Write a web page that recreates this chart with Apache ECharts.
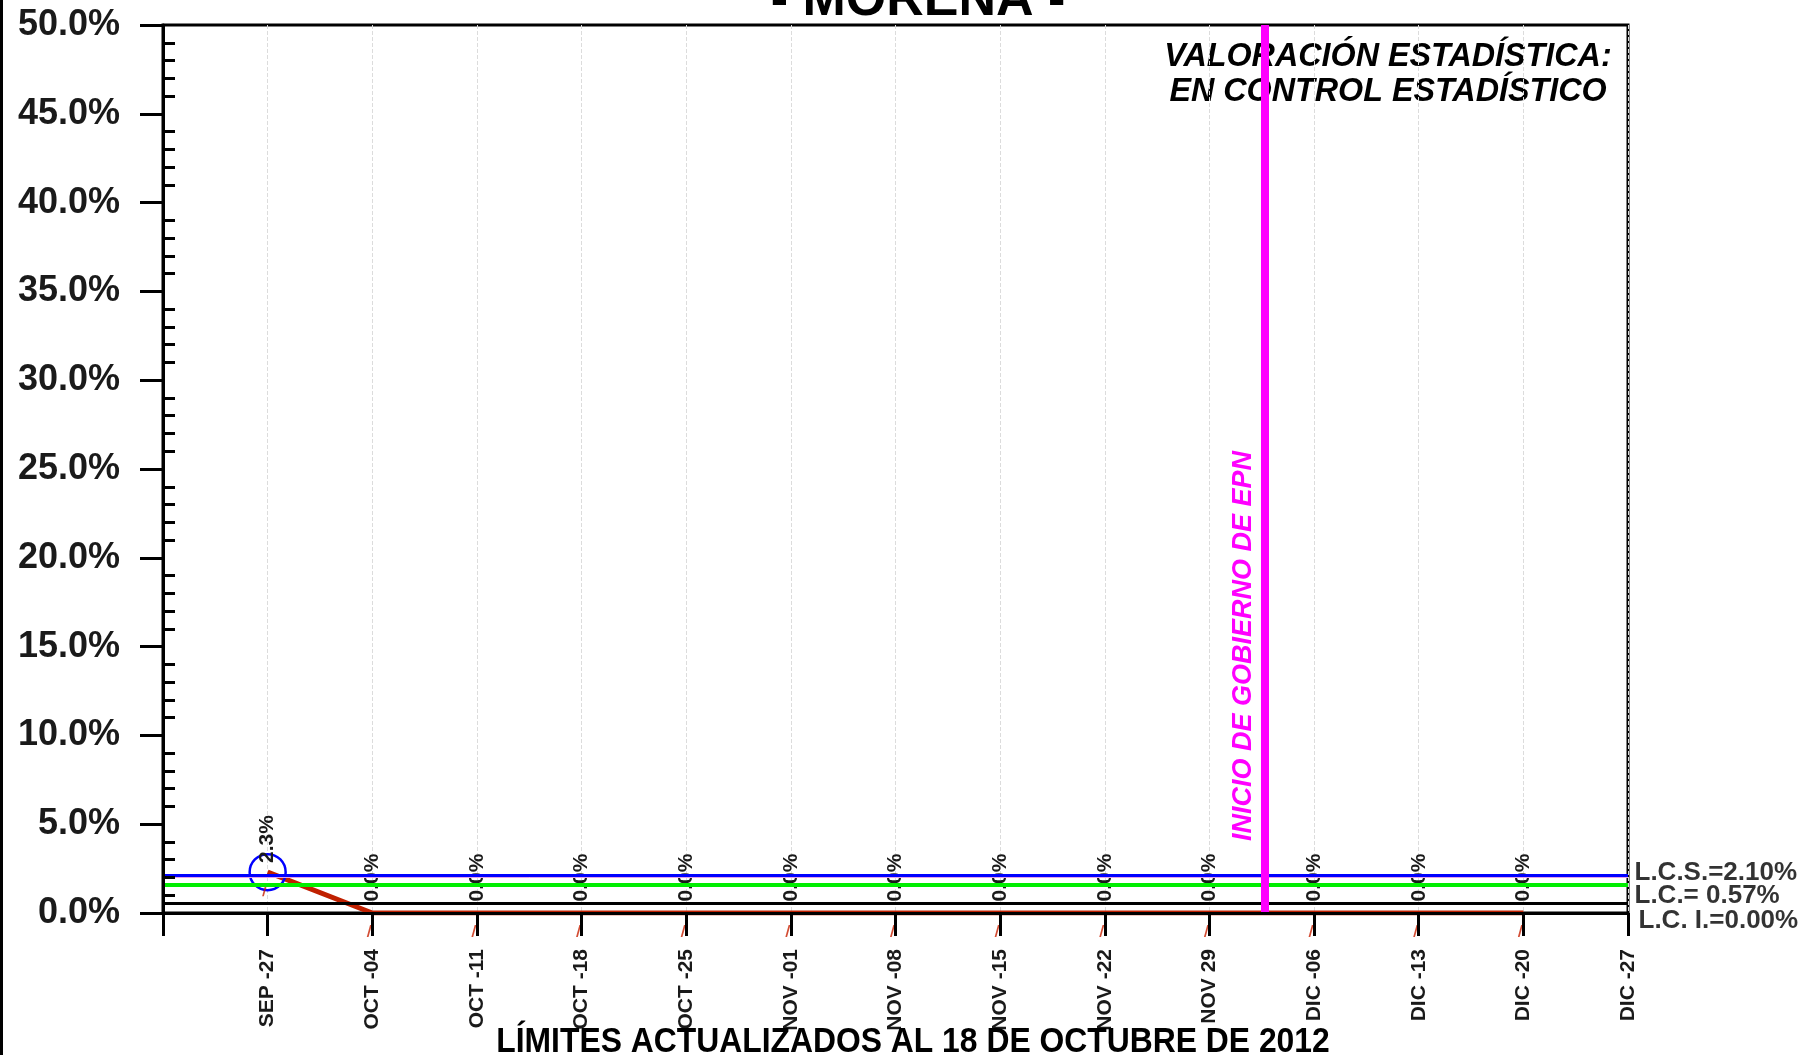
<!DOCTYPE html>
<html>
<head>
<meta charset="utf-8">
<script src="https://cdn.jsdelivr.net/npm/echarts@6/dist/echarts.min.js"></script>
<style>html,body{margin:0;padding:0;background:#fff}#chart{width:1804px;height:1055px}</style>
</head>
<body>
<div id="chart"></div>
<script>
// ---- data ----
const categories = ['SEP -27','OCT -04','OCT -11','OCT -18','OCT -25','NOV -01','NOV -08','NOV -15','NOV -22','NOV 29','DIC -06','DIC -13','DIC -20','DIC -27'];
const rates = [2.3, 0.0, 0.0, 0.0, 0.0, 0.0, 0.0, 0.0, 0.0, 0.0, 0.0, 0.0, 0.0];
const yMin = 0, yMax = 50, yInterval = 5;
const limitNames = ['L.C.S.=', 'L.C.= ', 'L.C. I.='];
const limitValues = [2.10, 0.57, 0.00];
const warningValue = 1.57;   // green line
const innerValue = 2.0;      // thin pink line
const govStart = 10.53;      // position between NOV 29 and DIC -06
const govLabel = 'INICIO DE GOBIERNO DE EPN';
const titleText = '- MORENA -';
const statusLines = ['VALORACIÓN ESTADÍSTICA:', 'EN CONTROL ESTADÍSTICO'];
const footerText = 'LÍMITES ACTUALIZADOS AL 18 DE OCTUBRE DE 2012';

const FF = "'Liberation Sans', Arial, sans-serif";
const chart = echarts.init(document.getElementById('chart'));

const limitColors = ['#0000ff', '#000000', '#000000'];
const limitLabelOffsets = [[0, -3], [0, -7], [4, 8]];

const limitLines = limitValues.map((v, i) => ({
  yAxis: v,
  lineStyle: { color: limitColors[i], width: 3, type: 'solid' },
  label: { show: false }
}));
limitLines.push({ yAxis: innerValue, lineStyle: { color: '#e6a0e6', width: 1, type: 'solid' }, label: { show: false } });
limitLines.push({ yAxis: warningValue, lineStyle: { color: '#00ee00', width: 4, type: 'solid' }, label: { show: false } });

const option = {
  animation: false,
  backgroundColor: '#ffffff',
  grid: { left: 163, right: 176, top: 25, bottom: 142, show: true, borderColor: '#000', borderWidth: 3, backgroundColor: 'transparent' },
  xAxis: [
    {
      type: 'value', min: 0, max: categories.length, interval: 1, position: 'bottom', z: 5,
      axisLine: { show: true, onZero: false, lineStyle: { color: '#000', width: 3 } },
      axisTick: { show: true, length: 23, lineStyle: { color: '#000', width: 3 } },
      axisLabel: {
        rotate: 90, margin: 36, fontSize: 21, fontWeight: 'bold', color: '#1a1a1a', fontFamily: FF,
        formatter: v => categories[v - 1] || ''
      },
      splitLine: { show: false }
    },
    {
      type: 'value', min: 0, max: categories.length, interval: 1, position: 'bottom', z: 0,
      axisLine: { show: false }, axisTick: { show: false }, axisLabel: { show: false },
      splitLine: { show: true, lineStyle: { color: '#dcdcdc', type: 'dashed', width: 1 } }
    }
  ],
  yAxis: [
    {
      type: 'value', min: yMin, max: yMax, interval: yInterval, position: 'left', z: 5,
      axisLine: { show: true, onZero: false, lineStyle: { color: '#000', width: 3 } },
      axisTick: { show: true, length: 23, lineStyle: { color: '#000', width: 3 } },
      axisLabel: { margin: 43, fontSize: 36, fontWeight: 'bold', color: '#1a1a1a', fontFamily: FF, formatter: v => v.toFixed(1) + '%' },
      splitLine: { show: false }
    },
    {
      type: 'value', min: yMin, max: yMax, interval: yInterval, position: 'left', z: 5,
      axisLine: { show: false }, axisTick: { show: false, inside: true },
      minorTick: { show: true, splitNumber: 5, length: 12, lineStyle: { color: '#000', width: 3 } },
      axisLabel: { show: false }, splitLine: { show: false }
    }
  ],
  series: [
    {
      name: 'limits', type: 'line', data: [], z: 1, xAxisIndex: 0, yAxisIndex: 0,
      markLine: { silent: true, symbol: 'none', animation: false, data: limitLines }
    },
    {
      name: 'limitLabels', type: 'scatter', z: 6, xAxisIndex: 0, yAxisIndex: 0, clip: false, silent: true,
      symbolSize: 1, itemStyle: { color: 'rgba(0,0,0,0)' },
      data: limitValues.map((v, i) => ({
        value: [categories.length, v],
        label: { offset: limitLabelOffsets[i] }
      })),
      label: {
        show: true, position: 'right', distance: 6,
        formatter: p => limitNames[p.dataIndex] + p.value[1].toFixed(2) + '%',
        fontFamily: FF, fontWeight: 'bold', fontSize: 26, color: '#000'
      }
    },
    {
      name: 'gov', type: 'line', data: [], z: 2, xAxisIndex: 0, yAxisIndex: 0,
      markLine: {
        silent: true, symbol: 'none', animation: false,
        data: [{
          xAxis: govStart,
          lineStyle: { color: '#ff00ff', width: 8, type: 'solid' },
          label: {
            show: true, position: 'insideStartTop', distance: [72, 8], formatter: govLabel,
            fontFamily: FF, fontWeight: 'bold', fontStyle: 'italic', fontSize: 27, color: '#ff00ff'
          }
        }]
      }
    },
    {
      name: 'rate', type: 'line', z: 3, xAxisIndex: 0, yAxisIndex: 0,
      data: rates.map((v, i) => {
        const out = v > limitValues[0];
        return {
          value: [i + 1, v],
          symbol: 'circle',
          symbolSize: out ? 36 : 1,
          itemStyle: out
            ? { color: 'rgba(0,0,0,0)', borderColor: '#0000ff', borderWidth: 2.5 }
            : { color: 'rgba(0,0,0,0)', borderWidth: 0 },
          label: out ? { distance: -10 } : {}
        };
      }),
      showSymbol: true,
      lineStyle: { color: '#c02000', width: 5 },
      label: {
        show: true, position: 'top', distance: 11, rotate: 90, align: 'left', verticalAlign: 'middle',
        formatter: p => p.value[1].toFixed(1) + '%',
        fontFamily: FF, fontWeight: 'bold', fontSize: 21, color: '#1a1a1a'
      }
    },
    {
      name: 'marks', type: 'scatter', z: 4, xAxisIndex: 0, yAxisIndex: 0, clip: false, silent: true,
      data: rates.map((v, i) => [i + 1, v]),
      symbol: 'path://M3,0 L4.6,0 L1.6,12 L0,12 Z',
      symbolSize: [5, 12], symbolOffset: [-3, 18],
      itemStyle: { color: '#c82000' }
    }
  ],
  graphic: [
    { type: 'rect', shape: { x: 0, y: 0, width: 3, height: 1055 }, style: { fill: '#000' } },
    { type: 'text', x: 918, y: 1, style: { text: titleText, font: 'bold 52px ' + FF, fill: '#000', textAlign: 'center', textVerticalAlign: 'middle' } },
    { type: 'text', x: 1388, y: 56.5, scaleX: 0.95, style: { text: statusLines[0], font: 'italic bold 34px ' + FF, fill: '#000', textAlign: 'center', textVerticalAlign: 'middle' } },
    { type: 'text', x: 1388, y: 92, scaleX: 0.95, style: { text: statusLines[1], font: 'italic bold 34px ' + FF, fill: '#000', textAlign: 'center', textVerticalAlign: 'middle' } },
    { type: 'text', x: 913, y: 1042, scaleX: 0.91, z: 10, style: { text: footerText, font: 'bold 35px ' + FF, fill: '#000', textAlign: 'center', textVerticalAlign: 'middle' } }
  ]
};
chart.setOption(option);
</script>
</body>
</html>
